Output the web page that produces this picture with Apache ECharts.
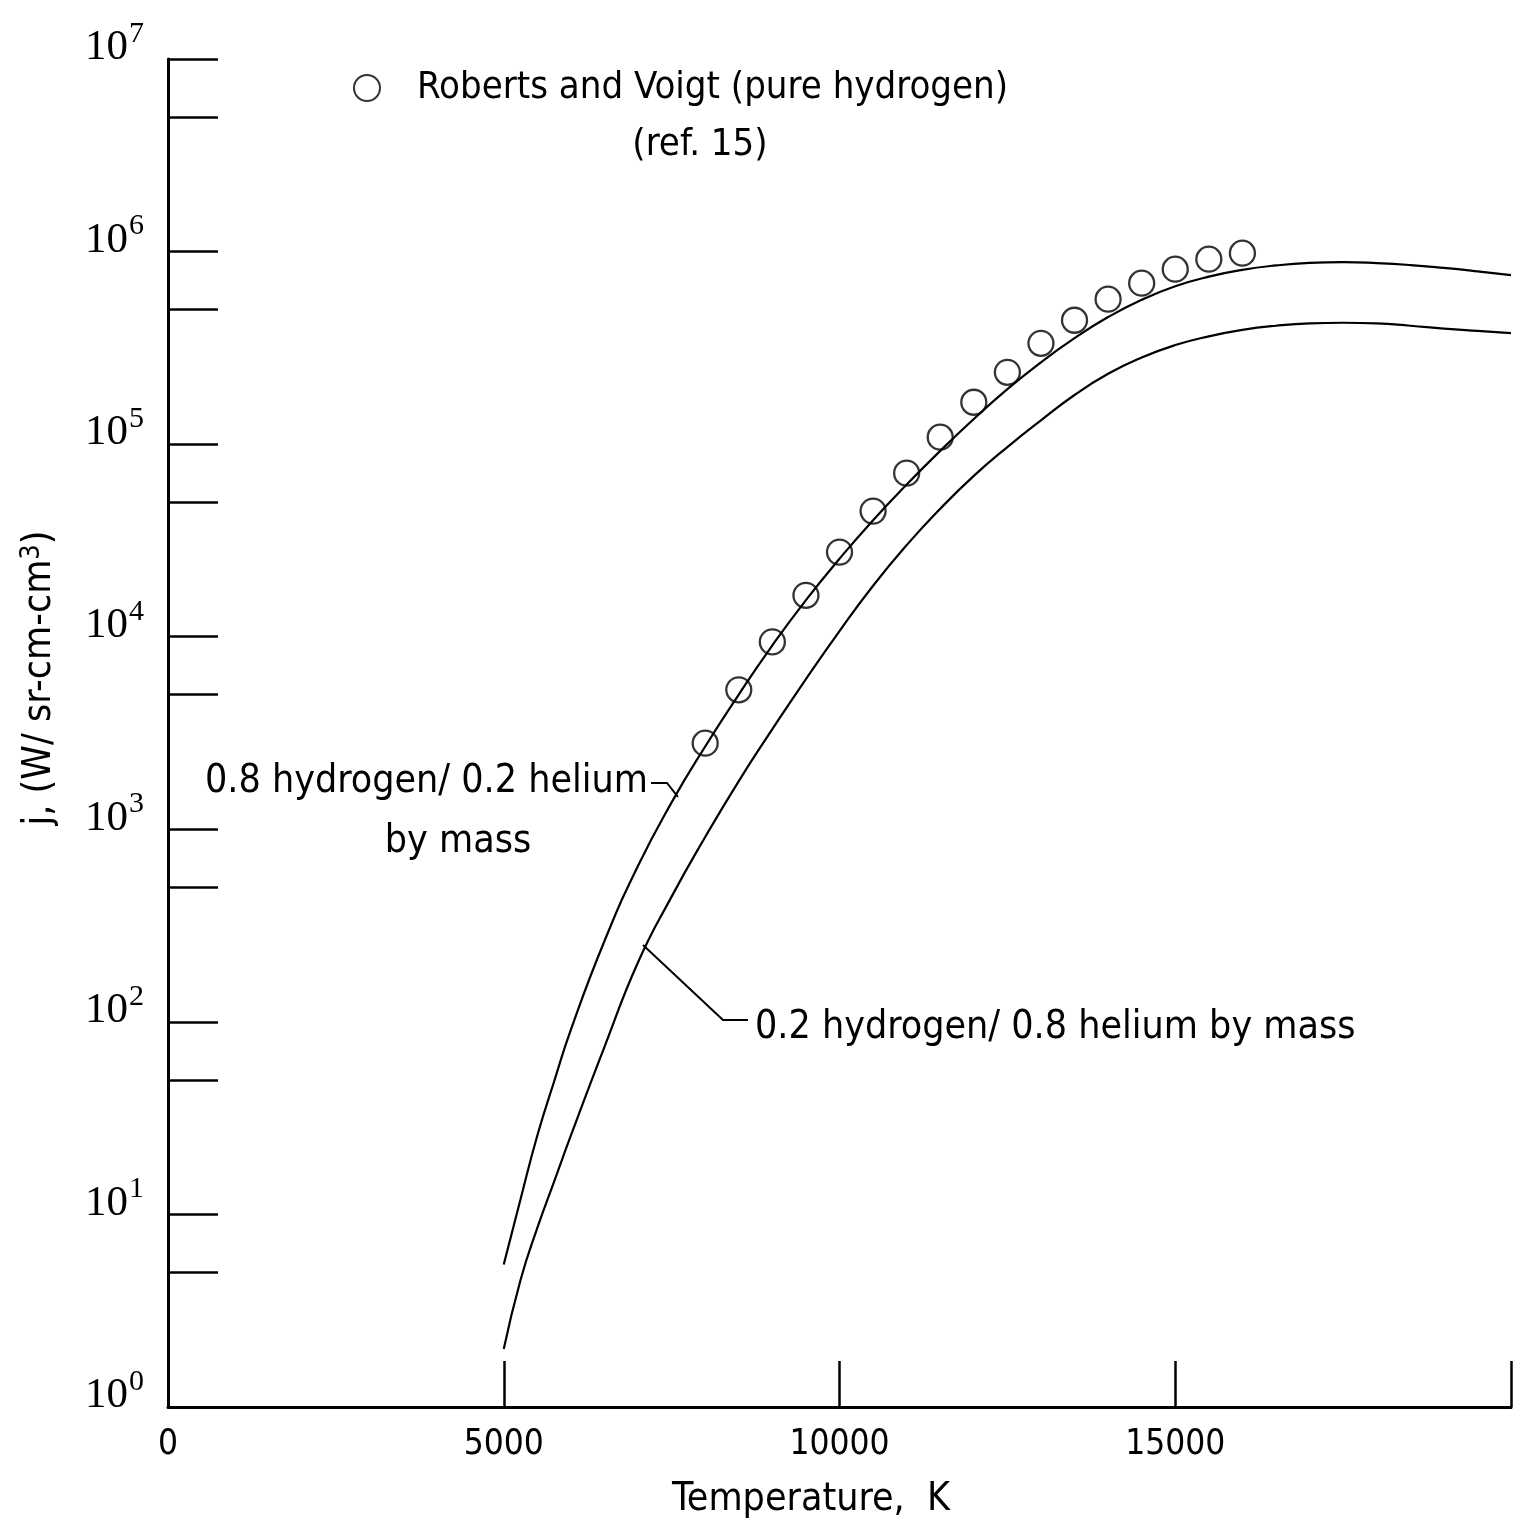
<!DOCTYPE html>
<html>
<head>
<meta charset="utf-8">
<script src="https://cdn.jsdelivr.net/npm/echarts@6/dist/echarts.min.js"></script>
<style>
html,body{margin:0;padding:0;background:#fff;}
#chart{width:1521px;height:1535px;}
</style>
</head>
<body>
<div id="chart"></div>
<script>
// ---- data ----
const seriesNames = [
  'Roberts and Voigt (pure hydrogen)',
  '0.8 hydrogen/0.2 helium by mass',
  '0.2 hydrogen/0.8 helium by mass'
];
// Roberts and Voigt (pure hydrogen), ref. 15
const circleTemps = [8000, 8500, 9000, 9500, 10000, 10500, 11000, 11500, 12000, 12500, 13000, 13500, 14000, 14500, 15000, 15500, 16000];
const circleJ = [2800, 5300, 9400, 16400, 27500, 44900, 70700, 108700, 165000, 236000, 334000, 440000, 566000, 685000, 810000, 913000, 981000];
// 0.8 hydrogen / 0.2 helium by mass
const h80Temps = [5000, 5250, 5500, 5750, 6000, 6500, 7000, 7500, 8000, 8500, 9000, 9500, 10000, 10500, 11000, 11500, 12000, 12500, 13000, 13500, 14000, 14500, 15000, 15500, 16000, 16500, 17000, 17500, 18000, 18500, 19000, 19500, 20000];
const h80J = [5.5, 12.0, 25.7, 49, 91.2, 263, 646, 1380, 2690, 5010, 9020, 15500, 25400, 40300, 61700, 92300, 135000, 193000, 266000, 355000, 457000, 562000, 661000, 741000, 804000, 847000, 873000, 881000, 871000, 851000, 822000, 789000, 754000];
// 0.2 hydrogen / 0.8 helium by mass
const h20Temps = [5000, 5250, 5500, 5750, 6000, 6500, 7000, 7500, 8000, 8500, 9000, 9500, 10000, 10500, 11000, 11500, 12000, 12500, 13000, 13500, 14000, 14500, 15000, 15500, 16000, 16500, 17000, 17500, 18000, 18500, 19000, 19500, 20000];
const h20J = [2.0, 4.57, 8.51, 14.8, 25.7, 74.1, 204, 447, 912, 1780, 3310, 6030, 10700, 18400, 29900, 46200, 68400, 96600, 133000, 180000, 232000, 282000, 327000, 363000, 392000, 412000, 424000, 427000, 424000, 412000, 398000, 387000, 377000];
// axes
const xTickValues = [0, 5000, 10000, 15000, 20000];
const xTickLabels = ['0', '5000', '10000', '15000', ''];
const yLabelValues = [1, 10, 100, 1e3, 1e4, 1e5, 1e6, 1e7];
const yTickValues = [1, 5, 10, 50, 100, 500, 1e3, 5e3, 1e4, 5e4, 1e5, 5e5, 1e6, 5e6, 1e7];

// ---- styling ----
const SANS = "'DejaVu Sans Condensed', 'Liberation Sans Narrow', sans-serif";
const SERIF = "'Liberation Serif', 'DejaVu Serif', serif";
const INK = '#000';
const TXT = 39;

const zip = (xs, ys) => xs.map((x, i) => [x, ys[i]]);

const chart = echarts.init(document.getElementById('chart'), null, {renderer: 'canvas'});

const option = {
  animation: false,
  backgroundColor: '#fff',
  grid: {left: 168, right: 10, top: 59, bottom: 128, containLabel: false},
  legend: {
    data: [seriesNames[0]],
    left: 348, top: 64,
    itemWidth: 26, itemHeight: 26,
    selectedMode: false,
    textStyle: {fontFamily: SANS, fontSize: 38, color: INK, padding: [0, 0, 0, 32]}
  },
  xAxis: {
    type: 'value', min: 0, max: 20000, interval: 5000,
    axisLine: {lineStyle: {color: INK, width: 3}},
    axisTick: {inside: true, length: 46, lineStyle: {color: INK, width: 2.5}},
    axisLabel: {
      margin: 20, color: INK, fontFamily: SANS, fontSize: 35,
      formatter: v => { const i = xTickValues.indexOf(v); return i >= 0 ? xTickLabels[i] : ''; }
    },
    splitLine: {show: false}
  },
  yAxis: {
    type: 'log', logBase: 10, min: 1, max: 1e7,
    axisLine: {lineStyle: {color: INK, width: 3}},
    axisTick: {inside: true, length: 50, customValues: yTickValues, lineStyle: {color: INK, width: 2.5}},
    axisLabel: {
      customValues: yLabelValues,
      margin: 24, color: INK, padding: [0, 0, 22, 0],
      formatter: v => '{b|10}{s|' + Math.round(Math.log10(v)) + '}',
      rich: {
        b: {fontFamily: SERIF, fontSize: 43, color: INK},
        s: {fontFamily: SERIF, fontSize: 30, color: INK, padding: [0, 0, 28, 1]}
      }
    },
    splitLine: {show: false}
  },
  series: [
    {
      name: seriesNames[0], type: 'scatter',
      data: zip(circleTemps, circleJ),
      symbol: 'circle', symbolSize: 25, z: 3,
      itemStyle: {color: 'rgba(0,0,0,0)', borderColor: INK, borderWidth: 2.3}
    },
    {
      name: seriesNames[1], type: 'line',
      data: zip(h80Temps, h80J),
      showSymbol: false, smooth: 0.5,
      lineStyle: {color: INK, width: 2.2}
    },
    {
      name: seriesNames[2], type: 'line',
      data: zip(h20Temps, h20J),
      showSymbol: false, smooth: 0.5,
      lineStyle: {color: INK, width: 2.2}
    }
  ],
  graphic: [
    {type: 'text', x: 700, y: 145, style: {text: '(ref. 15)', fontFamily: SANS, fontSize: 38, fill: INK, align: 'center', verticalAlign: 'middle'}},
    {type: 'text', x: 205, y: 782, style: {text: '0.8 hydrogen/ 0.2 helium', fontFamily: SANS, fontSize: TXT, fill: INK, align: 'left', verticalAlign: 'middle'}},
    {type: 'text', x: 458, y: 842, style: {text: 'by mass', fontFamily: SANS, fontSize: TXT, fill: INK, align: 'center', verticalAlign: 'middle'}},
    {type: 'text', x: 755, y: 1028, style: {text: '0.2 hydrogen/ 0.8 helium by mass', fontFamily: SANS, fontSize: TXT, fill: INK, align: 'left', verticalAlign: 'middle'}},
    {type: 'text', x: 811, y: 1500, style: {text: 'Temperature,  K', fontFamily: SANS, fontSize: TXT, fill: INK, align: 'center', verticalAlign: 'middle'}},
    {type: 'text', x: 40, y: 678, rotation: Math.PI / 2,
      style: {
        text: '{a|j, (W/ sr-cm-cm}{s|3}{a|)}',
        align: 'center', verticalAlign: 'middle',
        rich: {
          a: {fontFamily: SANS, fontSize: TXT, fill: INK, color: INK},
          s: {fontFamily: SANS, fontSize: 27, fill: INK, color: INK, padding: [0, 0, 16, 0]}
        }
      }
    },
    {type: 'polyline', shape: {points: [[651, 783], [667, 783], [678, 797]]}, style: {stroke: INK, lineWidth: 2, fill: null}},
    {type: 'polyline', shape: {points: [[643, 945], [723, 1020], [748, 1020]]}, style: {stroke: INK, lineWidth: 2, fill: null}}
  ]
};
chart.setOption(option);
</script>
</body>
</html>
